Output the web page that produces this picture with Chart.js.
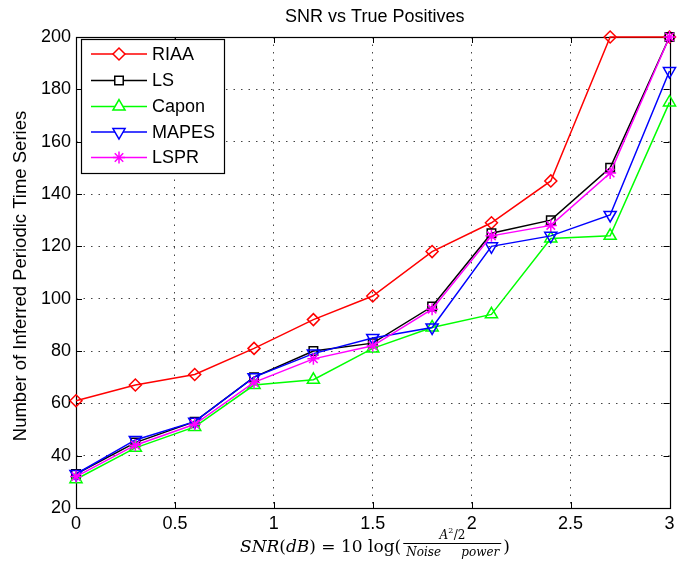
<!DOCTYPE html>
<html>
<head>
<meta charset="utf-8">
<script src="https://cdn.jsdelivr.net/npm/chart.js@4/dist/chart.umd.min.js"></script>
<style>
html,body{margin:0;padding:0;background:#fff;}
#wrap{width:678px;height:569px;}
</style>
</head>
<body>
<div id="wrap"><canvas id="c" width="678" height="569"></canvas></div>
<script>
const snr = [0, 0.3, 0.6, 0.9, 1.2, 1.5, 1.8, 2.1, 2.4, 2.7, 3.0];
const riaa  = [61, 67, 71, 81, 92, 101, 118, 129, 145, 200, 200];
const ls    = [33, 45, 53, 70, 80, 83, 97, 125, 130, 150, 200];
const capon = [31, 43, 51, 67, 69, 81, 89, 94, 123, 124, 175];
const mapes = [33, 46, 53, 70, 79, 85, 89, 120, 124, 132, 187];
const lspr  = [32, 44, 52, 68, 77, 82, 96, 124, 128, 148, 200];
const seriesNames = ['RIAA', 'LS', 'Capon', 'MAPES', 'LSPR'];
const xTicks = [0, 0.5, 1, 1.5, 2, 2.5, 3];
const yTicks = [20, 40, 60, 80, 100, 120, 140, 160, 180, 200];
const titleText = 'SNR vs True Positives';
const yLabelText = 'Number of Inferred Periodic Time Series';

const FONT = '"Liberation Sans", Arial, Helvetica, sans-serif';
const toPts = arr => arr.map((v, i) => ({x: snr[i], y: v}));

function mk(label, data, color, style, radius, rotation, order) {
  return {
    label, data: toPts(data),
    borderColor: color, backgroundColor: color,
    borderWidth: 1.5,
    pointStyle: style, pointRadius: radius, pointRotation: rotation || 0,
    pointBorderColor: color, pointBackgroundColor: 'rgba(0,0,0,0)',
    pointBorderWidth: 1.5, pointHoverRadius: radius,
    tension: 0, clip: false, order
  };
}

const datasets = [
  mk(seriesNames[0], riaa, '#ff0000', 'rectRot', 6, 0, 5),
  mk(seriesNames[1], ls, '#000000', 'rect', 6, 0, 4),
  mk(seriesNames[2], capon, '#00ff00', 'triangle', 7, 0, 3),
  mk(seriesNames[3], mapes, '#0000ff', 'triangle', 7, 180, 2),
  mk(seriesNames[4], lspr, '#ff00ff', 'star', 6, 0, 1)
];

function drawMarker(ctx, ds, x, y) {
  if (Chart.helpers && Chart.helpers.drawPoint) {
    Chart.helpers.drawPoint(ctx, {
      pointStyle: ds.pointStyle, radius: ds.pointRadius, rotation: ds.pointRotation,
      borderWidth: ds.pointBorderWidth
    }, x, y);
  }
}

const decor = {
  id: 'decor',
  beforeDatasetsDraw(chart) {
    const {ctx, chartArea: a, scales} = chart;
    ctx.save();
    ctx.strokeStyle = '#000'; ctx.lineWidth = 1;
    ctx.beginPath();
    xTicks.forEach(t => {
      const px = Math.round(scales.x.getPixelForValue(t)) + 0.5;
      ctx.moveTo(px, a.bottom); ctx.lineTo(px, a.bottom - 6);
      ctx.moveTo(px, a.top); ctx.lineTo(px, a.top + 6);
    });
    yTicks.forEach(t => {
      const py = Math.round(scales.y.getPixelForValue(t)) + 0.5;
      ctx.moveTo(a.left, py); ctx.lineTo(a.left + 6, py);
      ctx.moveTo(a.right, py); ctx.lineTo(a.right - 6, py);
    });
    ctx.stroke();
    ctx.lineWidth = 1.2;
    ctx.strokeRect(Math.round(a.left) + 0.5, Math.round(a.top) + 0.5,
                   Math.round(a.right - a.left), Math.round(a.bottom - a.top));
    ctx.restore();
  },
  afterDraw(chart) {
    const {ctx, chartArea: a} = chart;
    ctx.save();
    ctx.fillStyle = '#000';
    ctx.font = '18px ' + FONT;
    ctx.textAlign = 'center'; ctx.textBaseline = 'middle';
    ctx.fillText(titleText, (a.left + a.right) / 2 + 2, 17);
    ctx.save();
    ctx.translate(21, 276);
    ctx.rotate(-Math.PI / 2);
    ctx.font = '18.5px ' + FONT;
    ctx.fillText(yLabelText, 0, 0);
    ctx.restore();

    // x label formula
    const serif = '"DejaVu Serif", "Liberation Serif", serif';
    const mainIt = 'italic 17px ' + serif;
    const mainUp = '17px ' + serif;
    const parts = [
      [mainIt, 'SNR'], [mainUp, '('], [mainIt, 'dB'], [mainUp, ')'],
      [mainUp, ' = 10 log(']
    ];
    ctx.textAlign = 'left'; ctx.textBaseline = 'alphabetic';
    const base = 552;
    let x = 240;
    parts.forEach(([f, t]) => { ctx.font = f; ctx.fillText(t, x, base); x += ctx.measureText(t).width; });
    const fracL = x + 2, fracR = fracL + 98;
    const fracC = (fracL + fracR) / 2;
    ctx.font = 'italic 12px ' + serif;
    const wA = ctx.measureText('A').width;
    ctx.font = '8px ' + serif;
    const w2s = ctx.measureText('2').width;
    ctx.font = '12px ' + serif;
    const wRest = ctx.measureText('/2').width;
    let nx = fracC - (wA + w2s + wRest) / 2;
    ctx.font = 'italic 12px ' + serif; ctx.fillText('A', nx, 539); nx += wA;
    ctx.font = '8px ' + serif; ctx.fillText('2', nx, 533); nx += w2s + 0.5;
    ctx.font = '12px ' + serif; ctx.fillText('/2', nx, 539);
    ctx.fillRect(fracL, 543, fracR - fracL, 1);
    ctx.font = 'italic 12px ' + serif;
    ctx.fillText('Noise', fracL + 3, 556);
    ctx.textAlign = 'right';
    ctx.fillText('power', fracR - 2, 556);
    ctx.textAlign = 'left';
    ctx.font = mainUp;
    ctx.fillText(')', fracR + 2, base);

    // legend
    const lx = 81, ly = 39, lw = 143, lh = 134;
    ctx.fillStyle = '#fff';
    ctx.fillRect(lx, ly, lw, lh);
    ctx.strokeStyle = '#000'; ctx.lineWidth = 1.2;
    ctx.strokeRect(lx + 0.5, ly + 0.5, lw, lh);
    const rowsY = [54, 80.5, 106.5, 132, 157.5];
    chart.data.datasets.forEach((ds, i) => {
      const y = rowsY[i];
      ctx.strokeStyle = ds.borderColor; ctx.lineWidth = 1.5;
      ctx.beginPath(); ctx.moveTo(91, y); ctx.lineTo(147, y); ctx.stroke();
      ctx.fillStyle = '#fff';
      drawMarker(ctx, ds, 119, y);
      ctx.fillStyle = '#000';
      ctx.font = '18px ' + FONT;
      ctx.textAlign = 'left'; ctx.textBaseline = 'middle';
      ctx.fillText(ds.label, 152, y + 1);
    });
    ctx.restore();
  }
};

new Chart(document.getElementById('c'), {
  type: 'line',
  data: {datasets},
  options: {
    responsive: false,
    animation: false,
    events: [],
    layout: {padding: {top: 37, right: 5, left: 0, bottom: 0}},
    plugins: {legend: {display: false}, title: {display: false}, tooltip: {enabled: false}},
    scales: {
      x: {
        type: 'linear', min: 0, max: 3,
        afterBuildTicks: s => { s.ticks = xTicks.map(v => ({value: v})); },
        afterFit: s => { s.height = 61; s.paddingLeft = 0; s.paddingRight = 0; },
        ticks: {color: '#000', font: {size: 18, family: FONT}, padding: 5,
                callback: v => String(v), maxRotation: 0, autoSkip: false},
        grid: {color: ctx => (ctx.tick && (ctx.tick.value === 0 || ctx.tick.value === 3)) ? 'rgba(0,0,0,0)' : '#444',
               lineWidth: 1, drawTicks: false},
        border: {display: false, dash: [1.5, 6]}
      },
      y: {
        min: 20, max: 200,
        afterBuildTicks: s => { s.ticks = yTicks.map(v => ({value: v})); },
        afterFit: s => { s.width = 76; s.paddingTop = 0; s.paddingBottom = 0; },
        ticks: {color: '#000', font: {size: 18, family: FONT}, padding: 5, autoSkip: false},
        grid: {color: ctx => (ctx.tick && (ctx.tick.value === 20 || ctx.tick.value === 200)) ? 'rgba(0,0,0,0)' : '#444',
               lineWidth: 1, drawTicks: false},
        border: {display: false, dash: [1.5, 6]}
      }
    }
  },
  plugins: [decor]
});
</script>
</body>
</html>
